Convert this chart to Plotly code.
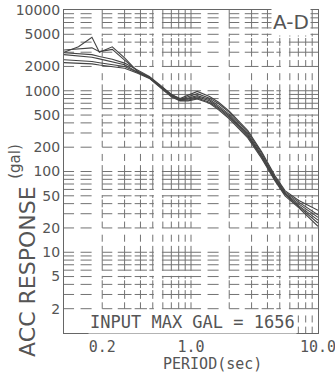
import plotly.graph_objects as go

# ---- data ----
period = [0.10, 0.13, 0.166, 0.19, 0.24, 0.30, 0.38, 0.47, 0.57, 0.70, 0.82,
          0.95, 1.12, 1.40, 1.65, 2.0, 2.8, 3.6, 4.6, 5.5, 7.0, 10.0]
resp_1 = [3000, 3500, 4600, 3000, 3500, 2550, 1720, 1480, 1150, 900, 800,
          880, 980, 850, 720, 560, 320, 175, 88, 58, 44, 33]
resp_2 = [3200, 3300, 3400, 3050, 3250, 2400, 1750, 1450, 1120, 870, 780,
          840, 920, 810, 690, 540, 305, 168, 85, 56, 42, 29]
resp_3 = [2950, 2900, 2800, 2650, 2450, 2200, 1780, 1500, 1180, 900, 790,
          810, 870, 780, 650, 510, 290, 160, 82, 54, 40, 27]
resp_4 = [2800, 2700, 2600, 2480, 2300, 2100, 1700, 1460, 1150, 880, 770,
          790, 840, 750, 620, 490, 280, 155, 80, 53, 38, 25]
resp_5 = [2420, 2380, 2300, 2220, 2120, 2000, 1680, 1440, 1120, 860, 760,
          770, 810, 720, 600, 470, 270, 150, 78, 52, 37, 23]
resp_6 = [2230, 2200, 2150, 2080, 2000, 1900, 1650, 1420, 1100, 840, 750,
          750, 790, 700, 580, 450, 260, 145, 76, 50, 36, 21]
series = [resp_1, resp_2, resp_3, resp_4, resp_5, resp_6]

x_tick_vals = [0.2, 1.0, 10.0]
x_tick_text = ["0.2", "1.0", "10.0"]
y_tick_vals = [2, 5, 10, 20, 50, 100, 200, 500, 1000, 2000, 5000, 10000]
y_tick_text = ["2", "5", "10", "20", "50", "100", "200", "500", "1000", "2000", "5000", "10000"]

x_decades = [0.1, 1.0]
y_decades = [1, 10, 100, 1000]
digits = [1, 2, 3, 4, 5, 6, 7, 8, 9]
# printed graph-paper dash pattern, in multiples of a decade base
dash_pattern = [(1.0, 1.2), (1.35, 1.65), (2.0, 2.4), (2.65, 3.4), (3.6, 4.5),
                (4.7, 5.1), (5.9, 10.0)]

fig = go.Figure()

# ---- graph-paper grid ----
grid_color = "#737373"
hx, hy = [], []
for yd in y_decades:
    for d in digits:
        yv = yd * d
        if yv == 1:
            continue
        for xd in x_decades:
            for a, b in dash_pattern:
                hx += [xd * a, xd * b, None]
                hy += [yv, yv, None]
vx, vy = [], []
for xd in x_decades:
    for d in digits:
        xv = xd * d
        if xv == 0.1:
            continue
        for yd in y_decades:
            for a, b in dash_pattern:
                vx += [xv, xv, None]
                vy += [yd * a, yd * b, None]
fig.add_trace(go.Scatter(x=hx, y=hy, mode="lines", line=dict(color=grid_color, width=1),
                         hoverinfo="skip", showlegend=False))
fig.add_trace(go.Scatter(x=vx, y=vy, mode="lines", line=dict(color=grid_color, width=1),
                         hoverinfo="skip", showlegend=False))

# ---- response curves ----
for s in series:
    fig.add_trace(go.Scatter(x=period, y=s, mode="lines",
                             line=dict(color="#444", width=1.1), showlegend=False))

fig.update_layout(
    width=335, height=373,
    margin=dict(l=64, r=17, t=10, b=40),
    paper_bgcolor="white", plot_bgcolor="white",
    showlegend=False,
    xaxis=dict(type="log", range=[-1, 1], showgrid=False, zeroline=False,
               showline=True, mirror=True, linecolor="#666", linewidth=1,
               tickvals=x_tick_vals, ticktext=x_tick_text, ticks="",
               ticklabeloverflow="allow",
               tickfont=dict(family="DejaVu Sans Mono", size=15, color="#555"),
               automargin=False),
    yaxis=dict(type="log", range=[0, 4], showgrid=False, zeroline=False,
               showline=True, mirror=True, linecolor="#666", linewidth=1,
               tickvals=y_tick_vals, ticktext=y_tick_text, ticks="",
               ticklabeloverflow="allow",
               tickfont=dict(family="DejaVu Sans", size=14, color="#555"),
               automargin=False),
    annotations=[
        dict(text="A-D", xref="paper", yref="paper", x=0.894, y=0.963,
             showarrow=False, font=dict(family="DejaVu Sans", size=20, color="#555"),
             bgcolor="white", xanchor="center", yanchor="middle"),
        dict(text="INPUT MAX GAL = 1656", xref="paper", yref="paper", x=0.504, y=0.034,
             showarrow=False, font=dict(family="DejaVu Sans Mono", size=17, color="#555"),
             bgcolor="white", xanchor="center", yanchor="middle"),
        dict(text="PERIOD(sec)", xref="paper", yref="paper", x=0.583, y=-0.096,
             showarrow=False, font=dict(family="DejaVu Sans Mono", size=15, color="#555"),
             xanchor="center", yanchor="middle"),
        dict(text="ACC RESPONSE", xref="paper", yref="paper", x=-0.142, y=0.189,
             showarrow=False, textangle=-90,
             font=dict(family="DejaVu Sans", size=22, color="#555"),
             xanchor="center", yanchor="middle"),
        dict(text="(gal)", xref="paper", yref="paper", x=-0.193, y=0.533,
             showarrow=False, textangle=-90,
             font=dict(family="DejaVu Sans", size=15, color="#555"),
             xanchor="center", yanchor="middle"),
    ],
)

fig.write_html("out.html")
